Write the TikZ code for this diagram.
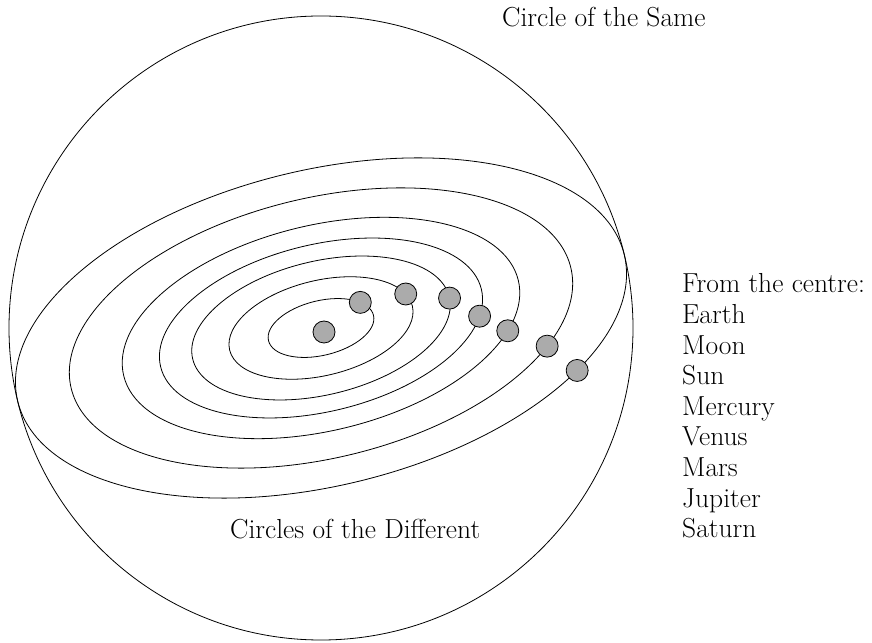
\documentclass[tikz,border=0pt]{standalone}
\usepackage{fontspec}
\usepackage{tikz}
\definecolor{planetgray}{HTML}{ABABAB}
\tikzset{
  orbit/.style={line width=0.8pt},
  planet/.style={circle,draw,fill=planetgray,line width=0.8pt,minimum size=22pt,inner sep=0pt},
  caption/.style={font=\fontsize{27.5}{33}\selectfont,inner sep=0pt,anchor=base west}
}

\begin{document}
\begin{tikzpicture}[x=1pt,y=1pt]
  \useasboundingbox (0,0) rectangle (872,642);
  % Circle of the Same
  \coordinate (centre) at (321,314);
  \draw[orbit] (centre) circle (312);
  % Circles of the Different, one per planet
  \begin{scope}[shift={(centre)},rotate=13.6]
    \foreach \a in {54,94,132,165,203,257,312}{
      \draw[orbit] (0,0) ellipse [x radius=\a, y radius=0.506*\a];
    }
    \node[planet] (moon)    at (35:54 and 27.3) {};
    \node[planet] (sun)     at (16:94 and 47.6) {};
    \node[planet] (mercury) at (-1:132 and 66.8) {};
    \node[planet] (venus)   at (-18:165 and 83.5) {};
    \node[planet] (mars)    at (-27:203 and 102.7) {};
    \node[planet] (jupiter) at (-33:257 and 130) {};
    \node[planet] (saturn)  at (-40:312 and 157.9) {};
  \end{scope}
  \node[planet] (earth) at (324,310) {};
  % Labels
  \node[caption] (same) at (502,615) {Circle of the Same};
  \node[caption] (different) at (230,103) {Circles of the Different};
  \foreach \txt [count=\i from 0] in {From the centre:,Earth,Moon,Sun,Mercury,Venus,Mars,Jupiter,Saturn}
    \node[caption] (key\i) at (682,349-30.6*\i) {\txt};
\end{tikzpicture}
\end{document}
